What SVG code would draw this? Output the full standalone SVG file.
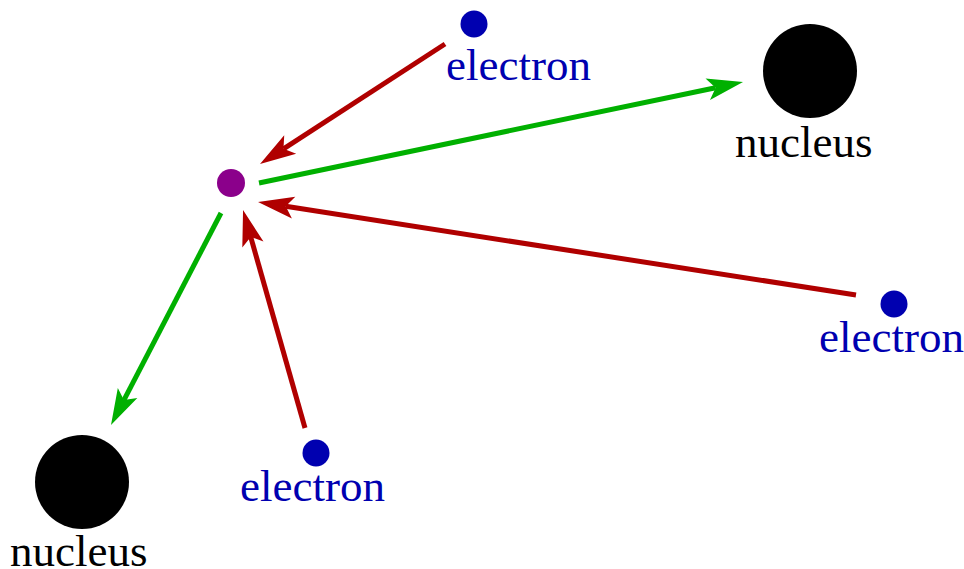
<svg xmlns="http://www.w3.org/2000/svg" width="964" height="569" viewBox="0 0 964 569">
<style>
.lbl{font-family:"Liberation Serif","Times New Roman",serif;font-size:45px}
.e{fill:#0000b0}
.n{fill:#000}
.r{stroke:#b00000;stroke-width:5;fill:none}
.g{stroke:#00b000;stroke-width:5;fill:none}
</style>
<defs>
<marker id="ar" markerUnits="userSpaceOnUse" markerWidth="40" markerHeight="26" refX="8" refY="12" orient="auto" overflow="visible"><path d="M0,1 L36,12 L0,23 L8,12 Z" fill="#b00000"/></marker>
<marker id="ag" markerUnits="userSpaceOnUse" markerWidth="40" markerHeight="26" refX="8" refY="12" orient="auto" overflow="visible"><path d="M0,1 L36,12 L0,23 L8,12 Z" fill="#00b000"/></marker>
</defs>
<g id="connectors">
<path class="r" d="M445,44 L283.5,148.8" marker-end="url(#ar)"/>
<path class="g" d="M259,183 L715.6,87.7" marker-end="url(#ag)"/>
<path class="r" d="M856,295 L285.7,206.3" marker-end="url(#ar)"/>
<path class="g" d="M221,213 L123.9,400.1" marker-end="url(#ag)"/>
<path class="r" d="M305,428 L250.7,236.9" marker-end="url(#ar)"/>
</g>
<g id="center"><circle cx="231" cy="183" r="14" fill="#8b008b"/></g>
<g id="electron-top"><circle cx="474" cy="24" r="13.5" class="e"/><text x="446" y="80" class="lbl e">electron</text></g>
<g id="electron-right"><circle cx="894" cy="304" r="13.5" class="e"/><text x="819" y="352" class="lbl e">electron</text></g>
<g id="electron-bottom"><circle cx="316" cy="453" r="13.5" class="e"/><text x="240" y="501" class="lbl e">electron</text></g>
<g id="nucleus-top"><circle cx="810" cy="71" r="47" class="n"/><text x="735" y="157" class="lbl n">nucleus</text></g>
<g id="nucleus-bottom"><circle cx="82" cy="482" r="47" class="n"/><text x="10" y="566" class="lbl n">nucleus</text></g>
</svg>
